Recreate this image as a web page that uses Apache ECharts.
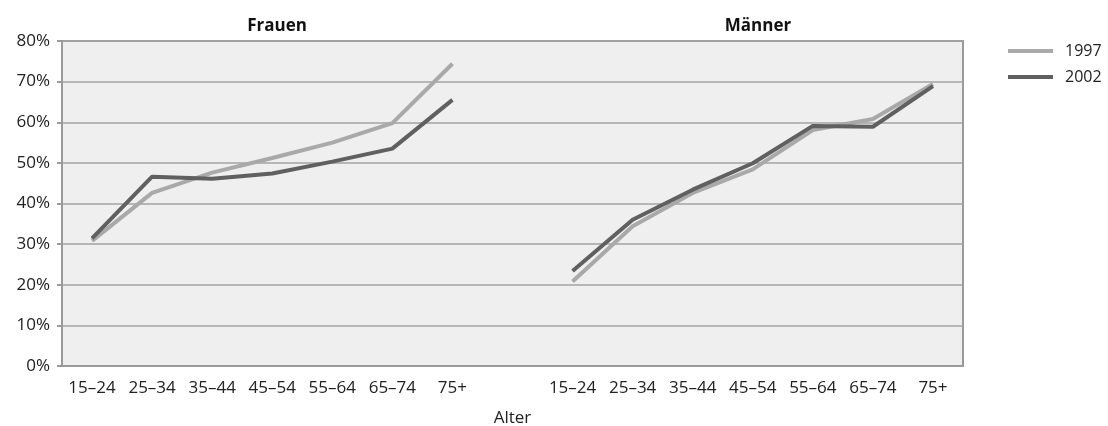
<!DOCTYPE html>
<html><head><meta charset="utf-8">
<script src="https://cdn.jsdelivr.net/npm/echarts@6/dist/echarts.min.js"></script>
<style>html,body{margin:0;padding:0;background:#fff}#c{width:1108px;height:426px}</style>
</head><body><div id="c"></div>
<script>
const ageGroups = ['15–24','25–34','35–44','45–54','55–64','65–74','75+'];
const categories = ageGroups.concat(['']).concat(ageGroups);
const panelTitles = ['Frauen','Männer'];
const frauen1997 = [30.8, 42.6, 47.6, 51.2, 55.0, 59.8, 74.4];
const frauen2002 = [31.4, 46.6, 46.1, 47.4, 50.3, 53.5, 65.5];
const maenner1997 = [20.8, 34.4, 42.6, 48.4, 58.1, 60.8, 69.4];
const maenner2002 = [23.4, 36.0, 43.4, 49.9, 59.1, 58.9, 68.9];
const yTicks = [0, 10, 20, 30, 40, 50, 60, 70, 80];

const s1997 = frauen1997.concat([null]).concat(maenner1997);
const s2002 = frauen2002.concat([null]).concat(maenner2002);
const font = '"Open Sans", "Noto Sans", sans-serif';
const chart = echarts.init(document.getElementById('c'));
chart.setOption({
  animation: false,
  textStyle: { fontFamily: font },
  title: [
    { text: panelTitles[0], left: 272, top: 13, textAlign: 'center',
      textStyle: { fontFamily: font, fontSize: 17, fontWeight: 'bold', color: '#111' } },
    { text: panelTitles[1], left: 753, top: 13, textAlign: 'center',
      textStyle: { fontFamily: font, fontSize: 17, fontWeight: 'bold', color: '#111' } }
  ],
  legend: {
    orient: 'vertical', left: 1003, top: 38, itemGap: 10,
    itemWidth: 45, itemHeight: 4, icon: 'rect',
    textStyle: { fontFamily: font, fontSize: 16, color: '#222', padding: [0,0,0,7] },
    data: ['1997', '2002']
  },
  grid: { left: 62, right: 145, top: 41, bottom: 60, show: true, containLabel: false,
    outerBoundsMode: 'none',
    backgroundColor: '#eeefee', borderColor: '#9a9a9a', borderWidth: 2 },
  xAxis: {
    type: 'category', data: categories, boundaryGap: true,
    name: 'Alter', nameLocation: 'middle', nameGap: 44,
    nameTextStyle: { fontFamily: font, fontSize: 17, color: '#222' },
    axisLine: { lineStyle: { color: '#9a9a9a', width: 2 } },
    axisTick: { show: false },
    axisLabel: { fontFamily: font, fontSize: 17, color: '#222', margin: 14, interval: 0 },
    splitLine: { show: false }
  },
  yAxis: {
    type: 'value', min: yTicks[0], max: yTicks[yTicks.length-1], interval: 10,
    axisLine: { show: true, lineStyle: { color: '#9a9a9a', width: 2 } },
    axisTick: { show: true, length: 5, lineStyle: { color: '#9a9a9a', width: 2 } },
    axisLabel: { fontFamily: font, fontSize: 17, color: '#222', margin: 12, formatter: '{value}%' },
    splitLine: { lineStyle: { color: '#a3a3a3', width: 1.5 } }
  },
  series: [
    { name: '1997', type: 'line', data: s1997, connectNulls: false, showSymbol: false, symbol: 'none',
      color: '#a9a9a9', lineStyle: { color: '#a9a9a9', width: 4 } },
    { name: '2002', type: 'line', data: s2002, connectNulls: false, showSymbol: false, symbol: 'none',
      color: '#606060', lineStyle: { color: '#606060', width: 4 } }
  ]
});
</script></body></html>
